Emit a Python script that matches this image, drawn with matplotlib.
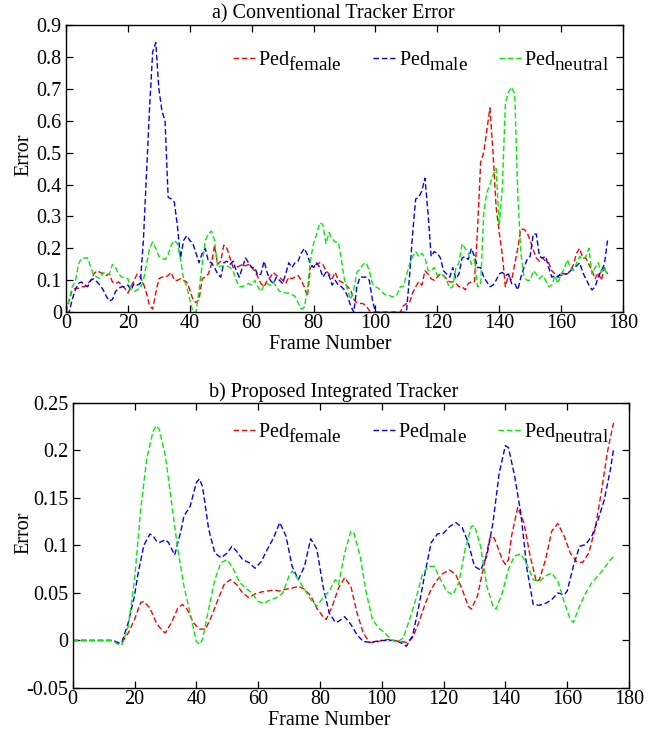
import matplotlib
matplotlib.use("Agg")
import matplotlib.pyplot as plt
import matplotlib._mathtext as mathtext_internals
import numpy as np

plt.rcParams["font.family"] = ["Liberation Serif", "DejaVu Serif"]
plt.rcParams["mathtext.fontset"] = "custom"
plt.rcParams["mathtext.rm"] = "Liberation Serif"
plt.rcParams["mathtext.it"] = "Liberation Serif:italic"
# the legend subscripts are set at almost full size and dropped a bit lower
mathtext_internals.SHRINK_FACTOR = 0.95
mathtext_internals.FontConstantsBase.sub1 = 0.55

# ---- a) conventional tracker, one value per frame (0..175) ----
female_a = [
    0.0, 0.035, 0.07, 0.075, 0.075, 0.08, 0.08, 0.09, 0.1, 0.12,
    0.13, 0.125, 0.12, 0.115, 0.12, 0.095, 0.09, 0.095, 0.085, 0.075,
    0.06, 0.08, 0.1, 0.12, 0.11, 0.09, 0.06, 0.02, 0.01, 0.06,
    0.105, 0.11, 0.11, 0.115, 0.125, 0.1, 0.1, 0.105, 0.1, 0.095,
    0.07, 0.04, 0.03, 0.04, 0.105, 0.11, 0.12, 0.15, 0.21, 0.15,
    0.16, 0.21, 0.2, 0.17, 0.14, 0.14, 0.145, 0.15, 0.145, 0.15,
    0.14, 0.13, 0.11, 0.09, 0.08, 0.1, 0.11, 0.125, 0.115, 0.11,
    0.1, 0.09, 0.11, 0.105, 0.11, 0.115, 0.1, 0.08, 0.05, 0.14,
    0.15, 0.15, 0.155, 0.15, 0.13, 0.12, 0.105, 0.125, 0.1, 0.095,
    0.09, 0.08, 0.07, 0.04, 0.03, 0.028, 0.027, 0.02, 0.005, 0.0,
    0.0, 0.0, 0.0, 0.0, 0.0, 0.0, 0.0, 0.0, 0.0, 0.02,
    0.027, 0.03, 0.06, 0.08, 0.095, 0.085, 0.13, 0.12, 0.105, 0.1,
    0.11, 0.12, 0.115, 0.105, 0.095, 0.095, 0.09, 0.08, 0.08, 0.07,
    0.09, 0.095, 0.095, 0.26, 0.47, 0.5, 0.57, 0.64, 0.5, 0.33,
    0.25, 0.18, 0.08, 0.115, 0.1, 0.15, 0.2, 0.26, 0.26, 0.25,
    0.225, 0.195, 0.17, 0.16, 0.17, 0.16, 0.155, 0.13, 0.12, 0.115,
    0.115, 0.12, 0.12, 0.13, 0.15, 0.185, 0.2, 0.17, 0.17, 0.15,
    0.13, 0.105, 0.125, 0.1, 0.14, 0.12,
]
male_a = [
    0.0, 0.0, 0.04, 0.07, 0.09, 0.095, 0.085, 0.08, 0.1, 0.105,
    0.095, 0.085, 0.07, 0.05, 0.035, 0.04, 0.065, 0.075, 0.08, 0.08,
    0.085, 0.07, 0.09, 0.085, 0.09, 0.225, 0.435, 0.64, 0.815, 0.845,
    0.7, 0.63, 0.6, 0.36, 0.355, 0.345, 0.27, 0.17, 0.225, 0.24,
    0.225, 0.215, 0.185, 0.155, 0.185, 0.2, 0.16, 0.155, 0.14, 0.12,
    0.11, 0.155, 0.16, 0.15, 0.16, 0.13, 0.11, 0.14, 0.17, 0.155,
    0.14, 0.14, 0.115, 0.12, 0.16, 0.125, 0.1, 0.09, 0.11, 0.1,
    0.09, 0.12, 0.155, 0.14, 0.155, 0.16, 0.185, 0.2, 0.18, 0.15,
    0.14, 0.155, 0.14, 0.11, 0.125, 0.115, 0.085, 0.1, 0.085, 0.08,
    0.07, 0.05, 0.02, 0.0, 0.08, 0.11, 0.11, 0.11, 0.1, 0.04,
    0.0, 0.0, 0.0, 0.0, 0.0, 0.0, 0.0, 0.0, 0.0, 0.0,
    0.0, 0.11, 0.245, 0.355, 0.36, 0.38, 0.42, 0.31, 0.175, 0.19,
    0.185, 0.17, 0.13, 0.12, 0.11, 0.14, 0.105, 0.12, 0.17, 0.175,
    0.165, 0.2, 0.175, 0.14, 0.14, 0.11, 0.095, 0.08, 0.085, 0.1,
    0.12, 0.125, 0.115, 0.12, 0.09, 0.09, 0.07, 0.11, 0.14, 0.165,
    0.175, 0.245, 0.245, 0.175, 0.17, 0.175, 0.14, 0.11, 0.115, 0.11,
    0.125, 0.12, 0.12, 0.13, 0.14, 0.145, 0.155, 0.125, 0.105, 0.085,
    0.07, 0.08, 0.11, 0.13, 0.15, 0.225,
]
neutral_a = [
    0.0, 0.04, 0.08, 0.095, 0.15, 0.17, 0.17, 0.17, 0.14, 0.115,
    0.11, 0.105, 0.125, 0.12, 0.12, 0.15, 0.14, 0.12, 0.11, 0.11,
    0.105, 0.07, 0.065, 0.07, 0.075, 0.1, 0.15, 0.2, 0.22, 0.2,
    0.175, 0.17, 0.165, 0.18, 0.21, 0.225, 0.215, 0.165, 0.105, 0.08,
    0.04, 0.0, 0.0, 0.07, 0.15, 0.225, 0.245, 0.255, 0.225, 0.14,
    0.145, 0.145, 0.145, 0.14, 0.13, 0.1, 0.08, 0.08, 0.085, 0.09,
    0.085, 0.1, 0.08, 0.065, 0.085, 0.09, 0.085, 0.095, 0.08, 0.065,
    0.065, 0.06, 0.06, 0.055, 0.05, 0.03, 0.01, 0.015, 0.07, 0.165,
    0.215, 0.245, 0.28, 0.275, 0.215, 0.25, 0.23, 0.22, 0.22, 0.165,
    0.1, 0.07, 0.04, 0.07, 0.125, 0.135, 0.15, 0.155, 0.13, 0.09,
    0.08, 0.075, 0.065, 0.055, 0.055, 0.05, 0.048, 0.055, 0.08, 0.08,
    0.115, 0.15, 0.175, 0.19, 0.175, 0.185, 0.17, 0.13, 0.13, 0.14,
    0.115, 0.12, 0.115, 0.1, 0.075, 0.08, 0.14, 0.155, 0.215, 0.2,
    0.185, 0.15, 0.165, 0.08, 0.085, 0.31, 0.375, 0.4, 0.43, 0.45,
    0.27, 0.39, 0.655, 0.69, 0.705, 0.685, 0.37, 0.185, 0.11, 0.1,
    0.1, 0.13, 0.12, 0.105, 0.115, 0.1, 0.08, 0.085, 0.115, 0.09,
    0.12, 0.135, 0.165, 0.14, 0.13, 0.155, 0.175, 0.165, 0.175, 0.2,
    0.12, 0.14, 0.155, 0.125, 0.14, 0.115,
]

# ---- b) proposed integrated tracker (smooth curves, sampled frames) ----
female_b_frames = [0, 13, 15, 16, 18, 20, 22, 23, 25, 27, 29, 30, 32, 34, 35.5, 37, 39, 41, 43,
                   45, 47, 49, 51, 53, 55, 57, 59, 61, 63, 65, 67, 69, 71, 73, 75, 77, 79, 81,
                   82, 84, 86, 88, 90, 92, 94, 96, 98, 100, 102, 104, 106, 108, 110, 112, 114,
                   116, 118, 120, 122, 124, 126, 128, 129, 131, 133, 135, 136, 137, 139, 140,
                   141, 142, 144, 146, 148, 150, 151, 153, 155, 157, 159, 161, 163, 165, 167,
                   169, 171, 173, 175]
female_b = [0.0, 0.0, -0.0025, -0.002, 0.008, 0.022, 0.04, 0.041, 0.034, 0.019, 0.01, 0.008,
            0.019, 0.034, 0.038, 0.033, 0.019, 0.012, 0.012, 0.026, 0.043, 0.059, 0.064, 0.059,
            0.05, 0.045, 0.049, 0.051, 0.052, 0.053, 0.052, 0.054, 0.055, 0.057, 0.054, 0.047,
            0.034, 0.025, 0.022, 0.036, 0.055, 0.066, 0.057, 0.029, 0.008, -0.002, -0.002, 0.0,
            0.001, 0.0, -0.001, -0.002, 0.003, 0.019, 0.038, 0.054, 0.064, 0.071, 0.074, 0.069,
            0.054, 0.036, 0.033, 0.047, 0.078, 0.108, 0.11, 0.103, 0.085, 0.08, 0.085, 0.11,
            0.14, 0.124, 0.089, 0.062, 0.064, 0.085, 0.115, 0.123, 0.11, 0.092, 0.083, 0.082,
            0.092, 0.117, 0.155, 0.198, 0.229]

male_b_frames = [0, 13, 15, 16, 18, 20, 21, 23, 25, 26, 27, 28, 30, 31, 33, 35, 36, 38, 40, 41,
                 42, 44, 46, 48, 50, 51.5, 53, 55, 57, 59, 61, 63, 65, 67, 69, 71, 73, 75, 77,
                 79, 81, 83, 85, 86, 88, 90, 92, 94, 96, 98, 100, 104, 106, 108, 110, 112, 114,
                 116, 118, 120, 122, 124, 126, 128, 130, 132, 134, 136, 138, 140, 141, 143,
                 145, 147, 149, 151, 153, 155, 157, 159, 160, 162, 164, 166, 168, 170, 172,
                 174, 175]
male_b = [0.0, 0.0, -0.003, -0.001, 0.019, 0.047, 0.068, 0.1, 0.112, 0.11, 0.105, 0.103,
          0.106, 0.103, 0.09, 0.115, 0.131, 0.141, 0.166, 0.17, 0.162, 0.117, 0.092, 0.087,
          0.092, 0.099, 0.094, 0.085, 0.082, 0.076, 0.083, 0.096, 0.108, 0.124, 0.11, 0.078,
          0.064, 0.078, 0.107, 0.096, 0.057, 0.029, 0.019, 0.02, 0.025, 0.017, 0.006, -0.001,
          -0.002, -0.001, 0.0, 0.0, -0.002, -0.006, 0.005, 0.036, 0.071, 0.103, 0.112, 0.113,
          0.12, 0.124, 0.119, 0.103, 0.078, 0.074, 0.089, 0.124, 0.176, 0.205, 0.203, 0.173,
          0.134, 0.075, 0.038, 0.037, 0.039, 0.043, 0.05, 0.048, 0.052, 0.078, 0.099, 0.101,
          0.11, 0.127, 0.148, 0.18, 0.201]

neutral_b_frames = [0, 13, 15, 16, 18, 20, 22, 24, 26, 27, 28, 30, 32, 34, 36, 38, 40, 41, 42,
                    44, 46, 48, 50, 52, 54, 56, 58, 60, 62, 64, 66, 68, 70, 71, 73, 75, 77, 79,
                    81, 83, 85, 86, 88, 90, 91, 93, 95, 97, 99, 101, 103, 105, 107, 109, 111,
                    113, 115, 117, 119, 121, 123, 125, 127, 129, 130, 132, 134, 136, 137, 139,
                    141, 143, 145, 147, 149, 151, 153, 155, 157, 159, 161, 162, 164, 166, 168,
                    170, 172, 174, 175]
neutral_b = [0.0, 0.0, -0.005, -0.004, 0.015, 0.064, 0.138, 0.192, 0.22, 0.226, 0.222, 0.194,
             0.145, 0.096, 0.057, 0.029, -0.001, -0.004, 0.001, 0.033, 0.064, 0.082, 0.085,
             0.075, 0.061, 0.055, 0.05, 0.041, 0.039, 0.043, 0.045, 0.05, 0.068, 0.073, 0.064,
             0.054, 0.043, 0.036, 0.045, 0.052, 0.064, 0.059, 0.092, 0.115, 0.113, 0.089, 0.05,
             0.022, 0.013, 0.008, 0.001, -0.002, 0.003, 0.022, 0.043, 0.068, 0.078, 0.078,
             0.064, 0.052, 0.048, 0.061, 0.096, 0.12, 0.121, 0.099, 0.057, 0.036, 0.033, 0.05,
             0.075, 0.089, 0.091, 0.08, 0.064, 0.062, 0.068, 0.071, 0.062, 0.041, 0.022, 0.019,
             0.036, 0.05, 0.061, 0.068, 0.076, 0.085, 0.088]

LABELS = [r"Ped$_{\mathrm{female}}$", r"Ped$_{\mathrm{male}}$", r"Ped$_{\mathrm{neutral}}$"]
COLORS = ["#ff0000", "#0000ff", "#00ee00"]
FS = 14.5


def style_axes(ax, xlim, ylim, yticks, yticklabels):
    ax.set_xlim(*xlim)
    ax.set_ylim(*ylim)
    ax.set_xticks(np.arange(0, 181, 20))
    ax.set_yticks(yticks)
    ax.set_yticklabels(yticklabels)
    ax.tick_params(direction="in", top=True, right=True, length=5, width=0.9,
                   labelsize=FS)
    ax.tick_params(axis="x", pad=1.5)
    ax.tick_params(axis="y", pad=3)
    for sp in ax.spines.values():
        sp.set_linewidth(1.0)


fig = plt.figure(figsize=(6.67, 7.33), dpi=100)
ax1 = fig.add_axes([0.099, 0.574, 0.835, 0.392])
ax2 = fig.add_axes([0.109, 0.0614, 0.834, 0.389])

frames_a = np.arange(len(female_a))
for vals, lab, c in zip([female_a, male_a, neutral_a], LABELS, COLORS):
    ax1.plot(frames_a, vals, ls=(0, (4, 2)), lw=1.0, color=c, label=lab)

for fr, vals, lab, c in zip([female_b_frames, male_b_frames, neutral_b_frames],
                            [female_b, male_b, neutral_b], LABELS, COLORS):
    ax2.plot(fr, vals, ls=(0, (4, 2)), lw=1.0, color=c, label=lab)

style_axes(ax1, (0, 180), (0, 0.9), np.arange(0, 0.91, 0.1),
           ["0"] + [f"{v:.1f}" for v in np.arange(0.1, 0.91, 0.1)])
style_axes(ax2, (0, 180), (-0.05, 0.25), np.arange(-0.05, 0.251, 0.05),
           ["-0.05", "0", "0.05", "0.1", "0.15", "0.2", "0.25"])

for ax, lx, ly, ex, ey, leg_x, leg_y in [(ax1, 0.474, -0.078, -0.058, 0.547, 0.30, 0.915),
                                         (ax2, 0.462, -0.079, -0.07, 0.544, 0.288, 0.935)]:
    ax.set_xlabel("Frame Number", fontsize=FS)
    ax.set_ylabel("Error", fontsize=FS)
    ax.xaxis.set_label_coords(lx, ly)
    ax.yaxis.set_label_coords(ex, ey)
    ax.legend(loc="upper left", bbox_to_anchor=(leg_x, leg_y), ncol=3, frameon=False,
              fontsize=FS, handlelength=1.1, handletextpad=0.15, columnspacing=1.55,
              borderaxespad=0, borderpad=0)

fig.text(0.5, 0.981, "a) Conventional Tracker Error", ha="center", va="center", fontsize=FS)
fig.text(0.5, 0.465, "b) Proposed Integrated Tracker", ha="center", va="center", fontsize=FS)

fig.savefig("out.png", dpi=100)
